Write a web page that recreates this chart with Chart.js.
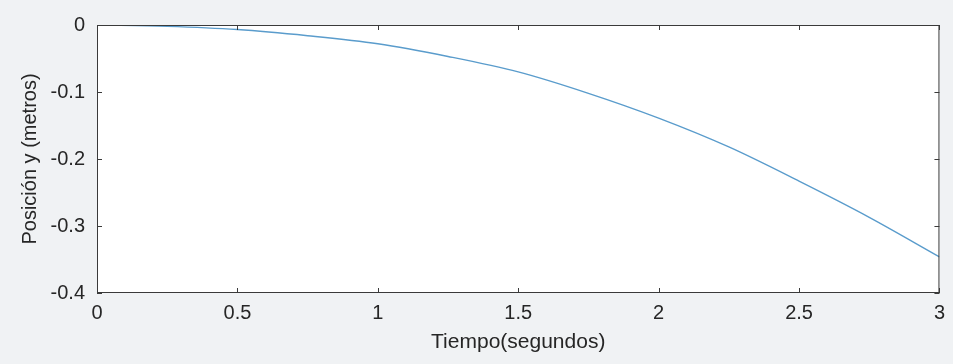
<!DOCTYPE html>
<html>
<head>
<meta charset="utf-8">
<script src="https://cdn.jsdelivr.net/npm/chart.js@4"></script>
<style>
  html, body { margin: 0; padding: 0; background: #f0f2f4; }
  #wrap { width: 953px; height: 364px; }
</style>
</head>
<body>
<div id="wrap"><canvas id="grafica" width="953" height="364"></canvas></div>
<script>
// datos
const tiempo = [0, 0.25, 0.5, 0.75, 1, 1.25, 1.5, 1.75, 2, 2.25, 2.5, 2.75, 3];
const posicionY = [0, -0.002, -0.0068, -0.016, -0.028, -0.047, -0.070, -0.102, -0.139, -0.182, -0.233, -0.287, -0.346];
const ticksX = [0, 0.5, 1, 1.5, 2, 2.5, 3];
const ticksY = [-0.4, -0.3, -0.2, -0.1, 0];

const colorEje = '#3a3a3a';
const colorTexto = '#262626';
const fuente = "'Liberation Sans', Arial, sans-serif";

// fondo gris y area blanca, estilo matlab
const fondo = {
  id: 'fondo',
  beforeDraw(chart) {
    const { ctx, chartArea: a } = chart;
    ctx.save();
    ctx.fillStyle = '#f0f2f4';
    ctx.fillRect(0, 0, chart.width, chart.height);
    ctx.fillStyle = '#ffffff';
    ctx.fillRect(a.left, a.top, a.right - a.left, a.bottom - a.top);
    ctx.restore();
  }
};

// caja y marcas hacia dentro en los cuatro lados
const caja = {
  id: 'caja',
  afterDraw(chart) {
    const { ctx, chartArea: a, scales } = chart;
    const largo = 5;
    ctx.save();
    ctx.strokeStyle = colorEje;
    ctx.lineWidth = 1;
    ctx.strokeRect(a.left + 0.5, a.top + 0.5, a.right - a.left - 1, a.bottom - a.top - 1);
    ctx.beginPath();
    ticksX.forEach(v => {
      const px = Math.round(scales.x.getPixelForValue(v)) + 0.5;
      ctx.moveTo(px, a.bottom); ctx.lineTo(px, a.bottom - largo);
      ctx.moveTo(px, a.top); ctx.lineTo(px, a.top + largo);
    });
    ticksY.forEach(v => {
      const py = Math.round(scales.y.getPixelForValue(v)) + 0.5;
      ctx.moveTo(a.left, py); ctx.lineTo(a.left + largo, py);
      ctx.moveTo(a.right, py); ctx.lineTo(a.right - largo, py);
    });
    ctx.stroke();
    ctx.restore();
  }
};

new Chart(document.getElementById('grafica'), {
  type: 'line',
  data: {
    datasets: [{
      data: tiempo.map((t, i) => ({ x: t, y: posicionY[i] })),
      borderColor: '#5a9ccc',
      borderWidth: 1.4,
      pointRadius: 0,
      cubicInterpolationMode: 'monotone',
      fill: false
    }]
  },
  options: {
    responsive: false,
    animation: false,
    events: [],
    layout: { padding: { left: 0, right: 13, top: 25, bottom: 0 } },
    plugins: { legend: { display: false }, tooltip: { enabled: false } },
    scales: {
      x: {
        type: 'linear',
        min: 0, max: 3,
        afterFit(scale) { scale.height = 71; },
        afterBuildTicks(scale) { scale.ticks = ticksX.map(v => ({ value: v })); },
        grid: { display: false, drawTicks: false },
        border: { display: false },
        ticks: {
          color: colorTexto,
          font: { family: fuente, size: 20 },
          padding: 8,
          maxRotation: 0,
          callback: v => String(v)
        },
        title: {
          display: true,
          text: 'Tiempo(segundos)',
          color: colorTexto,
          font: { family: fuente, size: 21 },
          padding: { top: 0, bottom: 9 }
        }
      },
      y: {
        type: 'linear',
        min: -0.4, max: 0,
        afterFit(scale) { scale.width = 97; },
        afterBuildTicks(scale) { scale.ticks = ticksY.map(v => ({ value: v })); },
        grid: { display: false, drawTicks: false },
        border: { display: false },
        ticks: {
          color: colorTexto,
          font: { family: fuente, size: 20 },
          padding: 12,
          callback: v => String(Math.round(v * 10) / 10)
        },
        title: {
          display: true,
          text: 'Posición y (metros)',
          color: colorTexto,
          font: { family: fuente, size: 20 },
          padding: { top: 18, bottom: 0 }
        }
      }
    }
  },
  plugins: [fondo, caja]
});
</script>
</body>
</html>
